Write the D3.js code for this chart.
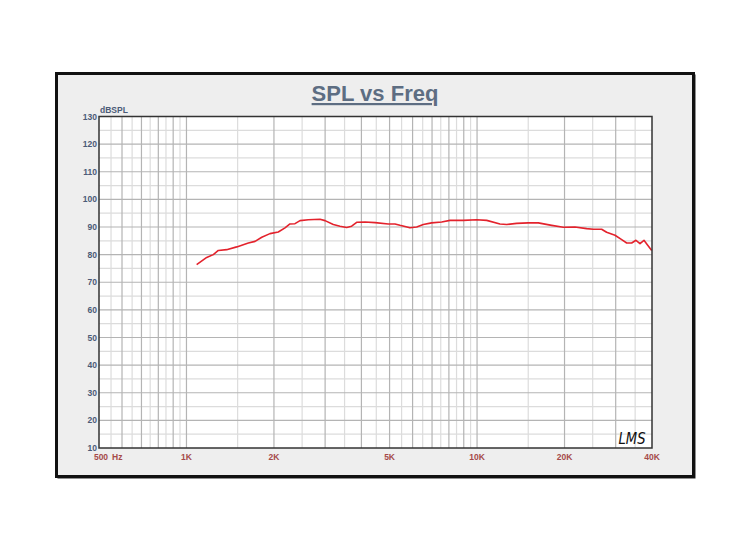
<!DOCTYPE html>
<html>
<head>
<meta charset="utf-8">
<script src="https://cdn.jsdelivr.net/npm/d3@7"></script>
<style>
  body { margin: 0; background: #fff; }
  svg { display: block; font-family: Arial, "Liberation Sans", sans-serif; }
</style>
</head>
<body>
<svg id="chart" width="750" height="550"></svg>
<script>
var freqs = [1084, 1174, 1237, 1287, 1375, 1489, 1633, 1722, 1816, 1938, 2070, 2183, 2270, 2363, 2459,
  2626, 2881, 2998, 3201, 3375, 3559, 3702, 3852, 4115, 4457, 4949, 5218, 5427, 5877, 6198, 6532,
  6977, 7554, 8068, 8966, 9970, 10796, 11991, 12645, 13685, 15003, 16245, 18066, 19807, 21725,
  23836, 25119, 26839, 27919, 29836, 31458, 32731, 34052, 35231, 36371, 37538, 38544, 39906];
var spl = [76.4, 79.0, 80.0, 81.5, 81.8, 82.8, 84.2, 84.8, 86.3, 87.6, 88.2, 89.7, 91.1, 91.2, 92.3,
  92.6, 92.8, 92.3, 90.9, 90.3, 89.8, 90.3, 91.7, 91.8, 91.6, 91.1, 91.1, 90.6, 89.7, 90.0, 90.9,
  91.5, 91.8, 92.4, 92.4, 92.6, 92.4, 91.1, 90.9, 91.3, 91.5, 91.5, 90.6, 89.9, 90.0,
  89.4, 89.2, 89.2, 88.1, 87.0, 85.4, 84.2, 84.2, 85.2, 84.0, 85.2, 83.6, 81.5];

var yTicks = [10, 20, 30, 40, 50, 60, 70, 80, 90, 100, 110, 120, 130];
var xTicks = [500, 1000, 2000, 5000, 10000, 20000, 40000];
var xTickLabels = ["500", "1K", "2K", "5K", "10K", "20K", "40K"];

var svg = d3.select("#chart");

// outer frame (heavier edge on right/bottom)
svg.append("rect")
  .attr("x", 57.5).attr("y", 74.5)
  .attr("width", 638).attr("height", 404)
  .attr("fill", "#222");
svg.append("rect")
  .attr("x", 56.5).attr("y", 73.5)
  .attr("width", 637).attr("height", 403)
  .attr("fill", "#eeeeee")
  .attr("stroke", "#111").attr("stroke-width", 3);

var pL = 99, pT = 116.5, pR = 652, pB = 448;

var x = d3.scaleLog().domain([500, 40000]).range([pL, pR]);
var y = d3.scaleLinear().domain([10, 130]).range([pB, pT]);

svg.append("rect")
  .attr("x", pL).attr("y", pT)
  .attr("width", pR - pL).attr("height", pB - pT)
  .attr("fill", "#fff");

// vertical grid: half steps light, whole steps dark
var vMinor = [], vMajor = [];
for (var f = 550; f < 1000; f += 50) (f % 100 ? vMinor : vMajor).push(f);
for (var f = 1000; f < 10000; f += 500) (f % 1000 ? vMinor : vMajor).push(f);
for (var f = 10000; f < 40000; f += 5000) (f % 10000 ? vMinor : vMajor).push(f);

var grid = svg.append("g");
grid.selectAll(".vminor").data(vMinor).enter().append("line")
  .attr("x1", function(d) { return x(d); }).attr("x2", function(d) { return x(d); })
  .attr("y1", pT).attr("y2", pB)
  .attr("stroke", "#dcdcdc").attr("stroke-width", 1.2);
grid.selectAll(".hminor").data(d3.range(15, 130, 10)).enter().append("line")
  .attr("x1", pL).attr("x2", pR)
  .attr("y1", function(d) { return y(d); }).attr("y2", function(d) { return y(d); })
  .attr("stroke", "#dcdcdc").attr("stroke-width", 1.2);
grid.selectAll(".vmajor").data(vMajor).enter().append("line")
  .attr("x1", function(d) { return x(d); }).attr("x2", function(d) { return x(d); })
  .attr("y1", pT).attr("y2", pB)
  .attr("stroke", "#b4b4b4").attr("stroke-width", 1.2);
grid.selectAll(".hmajor").data(yTicks.slice(1, -1)).enter().append("line")
  .attr("x1", pL).attr("x2", pR)
  .attr("y1", function(d) { return y(d); }).attr("y2", function(d) { return y(d); })
  .attr("stroke", "#b4b4b4").attr("stroke-width", 1.2);

// curve
var line = d3.line()
  .x(function(d, i) { return x(freqs[i]); })
  .y(function(d) { return y(d); });
svg.append("path")
  .datum(spl)
  .attr("d", line)
  .attr("fill", "none")
  .attr("stroke", "#e3222c")
  .attr("stroke-width", 1.6)
  .attr("stroke-linejoin", "round");

// plot border
svg.append("rect")
  .attr("x", pL).attr("y", pT)
  .attr("width", pR - pL).attr("height", pB - pT)
  .attr("fill", "none")
  .attr("stroke", "#333").attr("stroke-width", 1.5);

// y labels
svg.selectAll(".ylab").data(yTicks).enter().append("text")
  .attr("x", pL - 2)
  .attr("y", function(d) { return y(d) + 3; })
  .attr("text-anchor", "end")
  .attr("font-size", 8.5).attr("font-weight", "bold")
  .attr("fill", "#4b5b77")
  .text(function(d) { return d; });

svg.append("text")
  .attr("x", pL + 1).attr("y", pT - 4)
  .attr("font-size", 8.5).attr("font-weight", "bold")
  .attr("fill", "#4b5b77")
  .text("dBSPL");

// x labels
svg.selectAll(".xlab").data(xTicks).enter().append("text")
  .attr("x", function(d, i) { return i === 0 ? x(d) + 2 : x(d); })
  .attr("y", pB + 12)
  .attr("text-anchor", "middle")
  .attr("font-size", 8.5).attr("font-weight", "bold")
  .attr("fill", "#a54a4a")
  .text(function(d, i) { return xTickLabels[i]; });

svg.append("text")
  .attr("x", pL + 13).attr("y", pB + 12)
  .attr("font-size", 8.5).attr("font-weight", "bold")
  .attr("fill", "#a54a4a")
  .text("Hz");

// title
svg.append("text")
  .attr("x", 375).attr("y", 101)
  .attr("text-anchor", "middle")
  .attr("font-size", 22).attr("font-weight", "bold")
  .attr("fill", "#5d6d82")
  .attr("text-decoration", "underline")
  .text("SPL vs Freq");

// LMS signature
svg.append("text")
  .attr("x", 632).attr("y", 444)
  .attr("text-anchor", "middle")
  .attr("font-size", 15).attr("font-style", "italic")
  .attr("font-family", "'DejaVu Sans', sans-serif")
  .attr("font-weight", 300)
  .attr("textLength", 27)
  .attr("lengthAdjust", "spacingAndGlyphs")
  .attr("fill", "#111")
  .text("LMS");
</script>
</body>
</html>
